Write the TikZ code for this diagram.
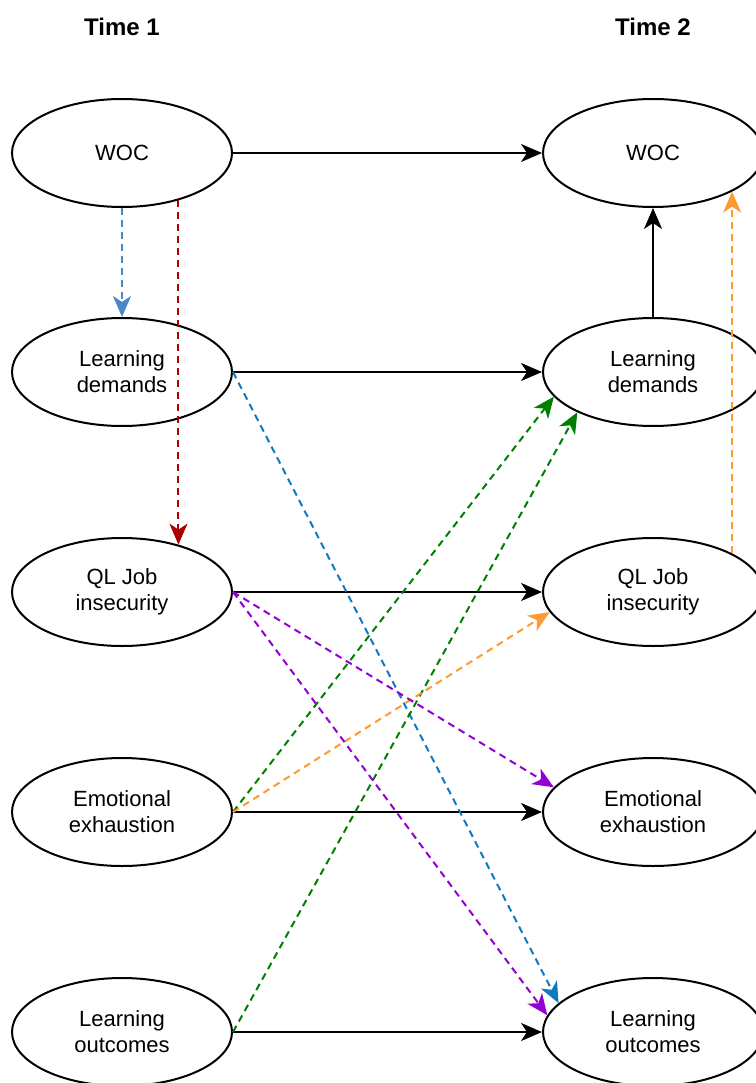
\documentclass[tikz,border=0pt]{standalone}
\usepackage{fontspec}
\setmainfont{Liberation Sans}
\usetikzlibrary{shapes.geometric,arrows.meta}

\definecolor{steel}{RGB}{74,134,200}
\definecolor{wine}{RGB}{170,0,0}
\definecolor{ocean}{RGB}{16,122,190}
\definecolor{leaf}{RGB}{0,128,0}
\definecolor{amber}{RGB}{255,153,51}
\definecolor{violet}{RGB}{148,0,211}

\tikzset{
  title/.style={font=\bfseries\fontsize{24}{28}\selectfont},
  var/.style={ellipse, draw, line width=2pt, minimum width=220pt, minimum height=108pt,
    inner sep=0pt, align=center, font=\fontsize{22}{26}\selectfont},
  link/.style={-{Stealth[length=21pt,width=18pt,inset=6pt]}, line width=2pt},
  dlink/.style={link, line width=2pt, dash pattern=on 7pt off 5pt},
}

\begin{document}
\begin{tikzpicture}[x=1pt, y=-1pt]
  \useasboundingbox (0,0) rectangle (755,1083);

  \node[title] (time1) at (122,27) {Time 1};
  \node[title] (time2) at (653,27) {Time 2};

  % Time 1
  \node[var] (woc1) at (122,153) {WOC};
  \node[var] (ld1) at (122,372) {Learning\\demands};
  \node[var] (qj1) at (122,592) {QL Job\\insecurity};
  \node[var] (ee1) at (122,812) {Emotional\\exhaustion};
  \node[var] (lo1) at (122,1032) {Learning\\outcomes};

  % Time 2
  \node[var] (woc2) at (653,153) {WOC};
  \node[var] (ld2) at (653,372) {Learning\\demands};
  \node[var] (qj2) at (653,592) {QL Job\\insecurity};
  \node[var] (ee2) at (653,812) {Emotional\\exhaustion};
  \node[var] (lo2) at (653,1032) {Learning\\outcomes};

  \foreach \row in {woc,ld,qj,ee,lo}
    \draw[link] (\row1) -- (\row2);
  \draw[link] (ld2) -- (woc2);

  % cross-lagged paths
  \foreach \src/\dest/\edgecolor in {
    woc1/ld1/steel, woc1.320/qj1.40/wine, qj2.26/woc2.334/amber,
    ld1.east/lo2.163/ocean, ee1.east/ld2.194/leaf, lo1.east/ld2.208/leaf,
    ee1.east/qj2.191/amber, qj1.east/ee2.166/violet, qj1.east/lo2.171/violet}
    \draw[dlink, \edgecolor] (\src) -- (\dest);
\end{tikzpicture}
\end{document}
